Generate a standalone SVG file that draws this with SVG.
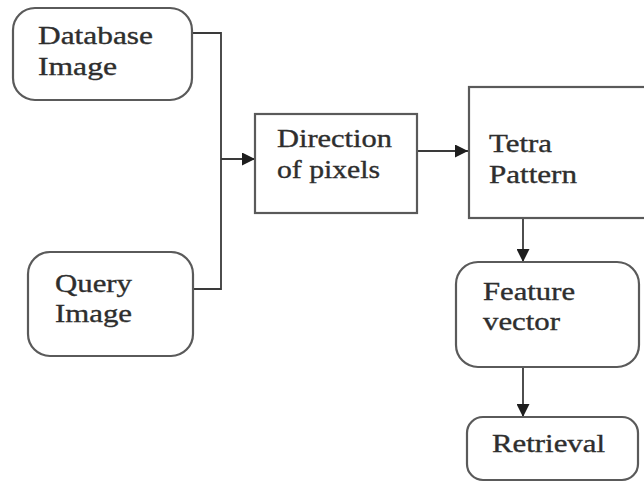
<svg xmlns="http://www.w3.org/2000/svg" width="644" height="483" viewBox="0 0 644 483">
  <defs>
    <style>
      .box { fill: #ffffff; stroke: #5a5a5a; stroke-width: 2.2; }
      .wire { fill: none; stroke: #3a3a3a; stroke-width: 1.8; }
      .lbl { font-family: "Liberation Serif", "Times New Roman", serif; font-size: 25px; fill: #2e2e2e; stroke: #2e2e2e; stroke-width: 0.35; }
    </style>
    <marker id="arrowBig" viewBox="0 0 10 10" refX="10" refY="5" markerWidth="13" markerHeight="13" markerUnits="userSpaceOnUse" orient="auto">
      <path d="M0,0 L10,5 L0,10 Z" fill="#1e1e1e"/>
    </marker>
  </defs>
  <rect width="644" height="483" fill="#ffffff"/>

  <!-- connectors -->
  <g id="connectors">
    <path class="wire" d="M192,33 H221 V289 H193"/>
    <path class="wire" d="M221,159 H255" marker-end="url(#arrowBig)"/>
    <path class="wire" d="M417,151 H468" marker-end="url(#arrowBig)"/>
    <path class="wire" d="M523,218 V262" marker-end="url(#arrowBig)"/>
    <path class="wire" d="M523,367 V417" marker-end="url(#arrowBig)"/>
  </g>

  <g id="database-image">
    <rect class="box" x="13" y="8" width="179" height="92" rx="22"/>
    <text class="lbl" x="38" y="44" textLength="115" lengthAdjust="spacingAndGlyphs">Database</text>
    <text class="lbl" x="38" y="75" textLength="79" lengthAdjust="spacingAndGlyphs">Image</text>
  </g>

  <g id="query-image">
    <rect class="box" x="28" y="252" width="165" height="104" rx="22"/>
    <text class="lbl" x="55" y="292" textLength="77" lengthAdjust="spacingAndGlyphs">Query</text>
    <text class="lbl" x="55" y="322" textLength="77" lengthAdjust="spacingAndGlyphs">Image</text>
  </g>

  <g id="direction-of-pixels">
    <rect class="box" x="255" y="114" width="162" height="99"/>
    <text class="lbl" x="277" y="147" textLength="115" lengthAdjust="spacingAndGlyphs">Direction</text>
    <text class="lbl" x="277" y="178" textLength="103" lengthAdjust="spacingAndGlyphs">of pixels</text>
  </g>

  <g id="tetra-pattern">
    <rect class="box" x="469" y="87" width="190" height="131"/>
    <text class="lbl" x="489" y="152" textLength="63" lengthAdjust="spacingAndGlyphs">Tetra</text>
    <text class="lbl" x="489" y="183" textLength="88" lengthAdjust="spacingAndGlyphs">Pattern</text>
  </g>

  <g id="feature-vector">
    <rect class="box" x="456" y="262" width="183" height="105" rx="22"/>
    <text class="lbl" x="483" y="300" textLength="92" lengthAdjust="spacingAndGlyphs">Feature</text>
    <text class="lbl" x="483" y="330" textLength="77" lengthAdjust="spacingAndGlyphs">vector</text>
  </g>

  <g id="retrieval">
    <rect class="box" x="467" y="417" width="171" height="63" rx="16"/>
    <text class="lbl" x="492" y="452" textLength="113" lengthAdjust="spacingAndGlyphs">Retrieval</text>
  </g>
</svg>
